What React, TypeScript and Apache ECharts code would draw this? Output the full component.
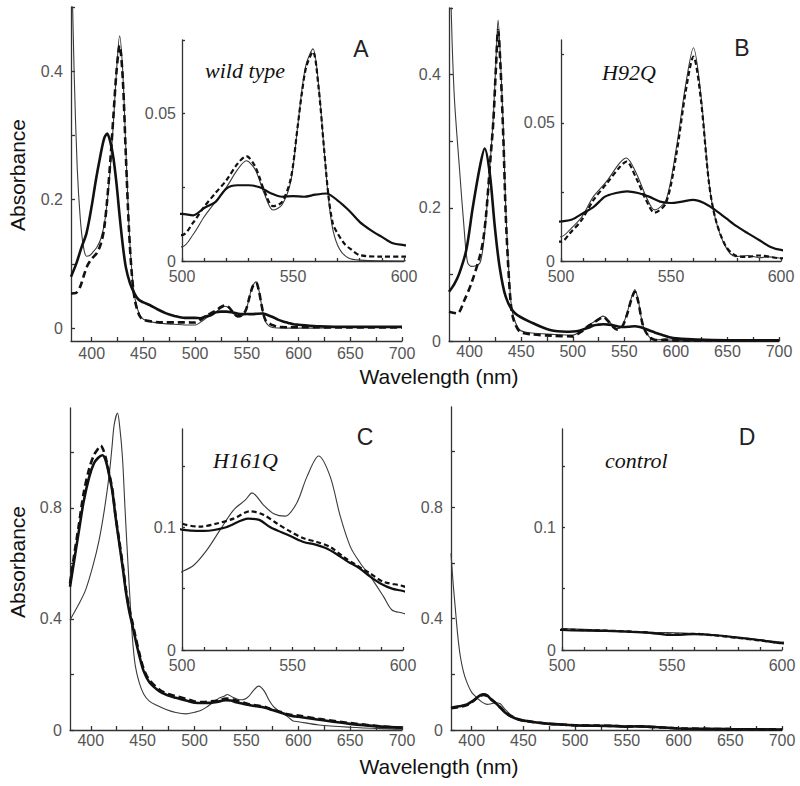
import React, { useEffect, useRef } from "react";
import * as echarts from "echarts";

// ---------- tick / label values ----------
const MAIN_X_TICKS = [400, 425, 450, 475, 500, 525, 550, 575, 600, 625, 650, 675, 700];
const MAIN_X_LABELS = [400, 450, 500, 550, 600, 650, 700];
const INSET_X_TICKS = [500, 510, 520, 530, 540, 550, 560, 570, 580, 590, 600];
const INSET_X_LABELS = [500, 550, 600];
const AB_Y_TICKS = [0, 0.1, 0.2, 0.3, 0.4, 0.5];
const AB_Y_LABELS = [0, 0.2, 0.4];
const CD_Y_TICKS = [0, 0.2, 0.4, 0.6, 0.8, 1.0];
const CD_Y_LABELS = [0, 0.4, 0.8];
const AB_INSET_Y_TICKS = [0, 0.025, 0.05, 0.075];
const AB_INSET_Y_LABELS = [0, 0.05];
const CD_INSET_Y_TICKS = [0, 0.05, 0.1, 0.15];
const CD_INSET_Y_LABELS = [0, 0.1];

const PANEL_LETTERS = ["A", "B", "C", "D"];
const PANEL_NAMES = ["wild type", "H92Q", "H161Q", "control"];

// ---------- Panel A (wild type) ----------
const A_THIN: [number, number][] = [
  [380, 0.62], [383, 0.4], [386, 0.25], [389, 0.17], [392, 0.127], [395, 0.112], [398, 0.113],
  [401, 0.118], [405, 0.126], [409, 0.14], [413, 0.17], [417, 0.23], [421, 0.32], [424, 0.4],
  [427, 0.455], [430, 0.4], [433, 0.28], [436, 0.16], [439, 0.085], [442, 0.045], [446, 0.022],
  [450, 0.014], [460, 0.009], [470, 0.007], [480, 0.006], [490, 0.005], [500, 0.0048],
  [505, 0.009], [510, 0.015], [515, 0.02], [520, 0.025], [525, 0.031], [529, 0.034], [533, 0.031],
  [537, 0.023], [541, 0.0173], [545, 0.019], [549, 0.027], [552, 0.045], [554, 0.058], [556, 0.067],
  [559, 0.072], [561.5, 0.06], [564, 0.038], [566, 0.021], [568, 0.0105], [571, 0.004], [575, 0.001],
  [580, 0.0003], [600, 0.0], [650, 0.001], [700, 0.001],
];
const A_DASHED: [number, number][] = [
  [380, 0.054], [385, 0.055], [389, 0.065], [392, 0.08], [396, 0.098], [400, 0.108], [405, 0.117],
  [409, 0.132], [412, 0.155], [415, 0.2], [418, 0.26], [421, 0.33], [424, 0.4], [427, 0.44],
  [430, 0.39], [433, 0.27], [436, 0.155], [439, 0.08], [442, 0.042], [446, 0.02], [450, 0.013],
  [460, 0.01], [470, 0.009], [480, 0.009], [490, 0.009], [500, 0.0088], [505, 0.013], [510, 0.0184],
  [515, 0.023], [520, 0.0274], [525, 0.033], [529, 0.0356], [533, 0.032], [537, 0.024], [541, 0.0186],
  [545, 0.02], [549, 0.028], [552, 0.045], [554, 0.057], [556, 0.066], [559, 0.071], [561.5, 0.059],
  [564, 0.038], [566, 0.022], [568, 0.0125], [570, 0.0095], [573, 0.006], [576, 0.004], [580, 0.002],
  [590, 0.0015], [600, 0.0015], [650, 0.001], [700, 0.001],
];
const A_THICK: [number, number][] = [
  [380, 0.08], [385, 0.1], [390, 0.125], [395, 0.148], [400, 0.19], [404, 0.23], [408, 0.265],
  [412, 0.295], [415, 0.303], [418, 0.29], [421, 0.265], [424, 0.225], [427, 0.175], [430, 0.13],
  [433, 0.095], [437, 0.07], [441, 0.055], [445, 0.045], [450, 0.04], [456, 0.036], [464, 0.029],
  [472, 0.023], [480, 0.019], [490, 0.016], [500, 0.016], [505, 0.0155], [510, 0.018], [515, 0.02],
  [520, 0.0246], [525, 0.0257], [530, 0.0257], [535, 0.025], [540, 0.023], [545, 0.0218], [550, 0.022],
  [555, 0.0218], [560, 0.0225], [565, 0.0229], [570, 0.0206], [575, 0.0173], [580, 0.0133],
  [585, 0.0105], [590, 0.0082], [595, 0.006], [600, 0.0054], [620, 0.003], [650, 0.002], [700, 0.002],
];

// ---------- Panel B (H92Q) ----------
const B_THIN: [number, number][] = [
  [380, 0.62], [383, 0.45], [385.4, 0.36], [390, 0.262], [395, 0.162], [398, 0.118], [402, 0.112],
  [406, 0.113], [410, 0.117], [413, 0.14], [416, 0.187], [420, 0.27], [423, 0.337], [425.5, 0.42],
  [427.6, 0.482], [430, 0.42], [432.8, 0.312], [435, 0.2], [437.7, 0.112], [440, 0.06], [442.6, 0.036],
  [448.7, 0.0165], [460, 0.012], [480, 0.01], [500, 0.0088], [504, 0.0113], [509.5, 0.016],
  [514.7, 0.0233], [520.7, 0.0288], [526.7, 0.0355], [529.7, 0.0373], [534.2, 0.0318], [538.7, 0.0233],
  [542.5, 0.0185], [547.7, 0.022], [552.3, 0.0403], [556.8, 0.0645], [560.2, 0.0772], [563.5, 0.0609],
  [567.3, 0.0282], [570.3, 0.0149], [574.8, 0.0052], [579.3, 0.0016], [585, 0.002], [590, 0.0012],
  [595, 0.0015], [600, 0.001], [650, 0.001], [700, 0.001],
];
const B_DASHED: [number, number][] = [
  [380, 0.044], [388, 0.0415], [395, 0.0616], [401.7, 0.0866], [409.8, 0.1266], [413, 0.15],
  [416, 0.19], [420, 0.27], [423, 0.33], [425.5, 0.41], [427.6, 0.467], [430, 0.41], [432.8, 0.3],
  [435, 0.19], [437.7, 0.105], [440, 0.055], [442.6, 0.032], [448.7, 0.014], [460, 0.01], [480, 0.008],
  [500, 0.007], [504, 0.01], [509.5, 0.015], [514.7, 0.022], [520.7, 0.028], [526.7, 0.034],
  [529.7, 0.036], [534.2, 0.03], [538.7, 0.022], [542.5, 0.0175], [547.7, 0.021], [552.3, 0.038],
  [556.8, 0.062], [560.2, 0.074], [563.5, 0.059], [567.3, 0.028], [570.3, 0.015], [574.8, 0.0055],
  [579.3, 0.002], [585, 0.0015], [590, 0.002], [600, 0.001], [700, 0.001],
];
const B_THICK: [number, number][] = [
  [380, 0.074], [385, 0.085], [390, 0.1016], [396.8, 0.137], [403, 0.2], [410, 0.262], [414.6, 0.289],
  [419.5, 0.252], [424.4, 0.172], [429, 0.112], [435, 0.0665], [444, 0.0416], [461.6, 0.0266],
  [478, 0.0165], [494, 0.014], [500, 0.0143], [505, 0.015], [510, 0.0173], [515, 0.0197], [520, 0.0233],
  [525, 0.0246], [530, 0.0252], [535, 0.0246], [540, 0.0233], [545, 0.0215], [550, 0.021], [555, 0.0215],
  [560, 0.0221], [565, 0.021], [570, 0.0185], [575, 0.0155], [580, 0.0125], [585, 0.01], [590, 0.0076],
  [595, 0.0052], [600, 0.004], [620, 0.002], [650, 0.001], [700, 0.001],
];

// ---------- Panel C (H161Q) ----------
const C_THIN: [number, number][] = [
  [380, 0.396], [388, 0.45], [395, 0.504], [402, 0.59], [408, 0.683], [413, 0.79], [417.8, 0.92],
  [420.5, 1.02], [422.6, 1.1], [425.8, 1.142], [428, 1.09], [430.6, 0.98], [433, 0.8], [435.5, 0.623],
  [438, 0.46], [440.3, 0.325], [443, 0.23], [446.8, 0.17], [451, 0.13], [456.5, 0.104], [464, 0.088],
  [472.6, 0.074], [482, 0.063], [491.9, 0.058], [500, 0.0638], [505.3, 0.069], [511.3, 0.0815],
  [517.3, 0.098], [523.3, 0.114], [528.6, 0.122], [531.7, 0.128], [536.9, 0.118], [541.5, 0.111],
  [546.7, 0.109], [552, 0.12], [556.5, 0.141], [561.8, 0.158], [567.1, 0.141], [571.6, 0.109],
  [576.2, 0.084], [580.7, 0.0707], [585.2, 0.06], [591.2, 0.0435], [595, 0.0326], [600, 0.03],
  [620, 0.018], [650, 0.01], [680, 0.005], [700, 0.003],
];
const C_DASHED: [number, number][] = [
  [380, 0.528], [384, 0.63], [388.7, 0.743], [393, 0.85], [398.4, 0.94], [403, 0.99], [406.4, 1.01],
  [409.7, 1.025], [412, 1.01], [414.5, 0.98], [418, 0.92], [421, 0.862], [424, 0.77], [427.4, 0.683],
  [431, 0.59], [434, 0.504], [437, 0.44], [440.3, 0.385], [443.5, 0.33], [446.8, 0.277], [451, 0.22],
  [456.5, 0.18], [466, 0.146], [474, 0.13], [482.3, 0.122], [492, 0.112], [500, 0.103], [508.3, 0.1005],
  [515.8, 0.103], [523.3, 0.107], [530.9, 0.113], [537, 0.11], [543, 0.103], [549, 0.0965], [555, 0.091],
  [561, 0.088], [567, 0.084], [573, 0.076], [579, 0.069], [585, 0.0625], [591, 0.0557], [600, 0.052],
  [620, 0.04], [650, 0.025], [680, 0.013], [700, 0.009],
];
const C_THICK: [number, number][] = [
  [380, 0.516], [384, 0.61], [388.7, 0.72], [393, 0.82], [398.4, 0.91], [403, 0.96], [407, 0.98],
  [411.3, 0.99], [414.5, 0.97], [418, 0.915], [421, 0.855], [424, 0.765], [427.4, 0.675], [431, 0.58],
  [434, 0.495], [437, 0.43], [440.3, 0.375], [443.5, 0.32], [446.8, 0.268], [451, 0.212], [456.5, 0.172],
  [466, 0.14], [474, 0.125], [482.3, 0.116], [492, 0.106], [500, 0.098], [510, 0.097], [520, 0.1],
  [530, 0.107], [535, 0.106], [540, 0.1], [545, 0.096], [550, 0.092], [555, 0.088], [560, 0.086],
  [565, 0.083], [570, 0.078], [575, 0.072], [580, 0.067], [585, 0.06], [590, 0.054], [595, 0.05],
  [600, 0.048], [620, 0.037], [650, 0.022], [680, 0.012], [700, 0.008],
];

// ---------- Panel D (control) ----------
const D_THIN: [number, number][] = [
  [380, 0.635], [382, 0.53], [384, 0.444], [386.5, 0.34], [389, 0.265], [392, 0.21], [395.5, 0.17],
  [400, 0.135], [405, 0.116], [410, 0.1], [414.8, 0.092], [419, 0.094], [423, 0.098], [427.7, 0.094],
  [432, 0.075], [437.4, 0.056], [445, 0.04], [453.5, 0.032], [465, 0.025], [476, 0.021], [490, 0.018],
  [500, 0.0175], [520, 0.016], [540, 0.0145], [560, 0.0135], [580, 0.0105], [600, 0.0065],
  [650, 0.004], [700, 0.002],
];
const D_DASHED: [number, number][] = [
  [380, 0.078], [388, 0.083], [395.5, 0.09], [400, 0.1], [405, 0.114], [408, 0.122], [411.5, 0.126],
  [415, 0.122], [418, 0.112], [421, 0.103], [424.5, 0.092], [427.7, 0.082], [432, 0.066], [437.4, 0.051],
  [445, 0.039], [453.5, 0.032], [465, 0.026], [476, 0.022], [490, 0.019], [500, 0.0168], [520, 0.0158],
  [540, 0.0142], [550, 0.0125], [560, 0.0132], [570, 0.0118], [580, 0.0098], [590, 0.0078],
  [600, 0.0057], [650, 0.003], [700, 0.002],
];
const D_THICK: [number, number][] = [
  [380, 0.08], [388, 0.085], [395.5, 0.092], [400, 0.102], [405, 0.116], [408, 0.124], [411.5, 0.128],
  [415, 0.124], [418, 0.113], [421, 0.104], [424.5, 0.092], [427.7, 0.08], [432, 0.064], [437.4, 0.05],
  [445, 0.038], [453.5, 0.032], [465, 0.026], [476, 0.022], [490, 0.019], [500, 0.0163], [520, 0.0155],
  [540, 0.014], [550, 0.0122], [560, 0.013], [570, 0.012], [580, 0.01], [590, 0.008], [600, 0.0055],
  [650, 0.003], [700, 0.002],
];

const PANEL_SERIES = [
  { thin: A_THIN, dashed: A_DASHED, thick: A_THICK },
  { thin: B_THIN, dashed: B_DASHED, thick: B_THICK },
  { thin: C_THIN, dashed: C_DASHED, thick: C_THICK },
  { thin: D_THIN, dashed: D_DASHED, thick: D_THICK },
];

const SANS = "'Liberation Sans', Arial, sans-serif";
const SERIF = "'Liberation Serif', 'Times New Roman', serif";
const AXIS_COLOR = "#333";
const LABEL_COLOR = "#555";

function buildOption() {
  // grids: main A, inset A, main B, inset B, main C, inset C, main D, inset D
  const grids = [
    { left: 71, top: 7, width: 331, height: 334 },
    { left: 182, top: 40, width: 222, height: 221 },
    { left: 449, top: 8, width: 330, height: 333 },
    { left: 561, top: 40, width: 220, height: 221 },
    { left: 70, top: 408, width: 332, height: 322 },
    { left: 182, top: 429, width: 221, height: 221 },
    { left: 451, top: 407, width: 331, height: 323 },
    { left: 562, top: 429, width: 220, height: 221 },
  ];
  const yRanges = [
    { min: -0.02, max: 0.5, ticks: AB_Y_TICKS, labels: AB_Y_LABELS },
    { min: 0, max: 0.075, ticks: AB_INSET_Y_TICKS, labels: AB_INSET_Y_LABELS },
    { min: 0, max: 0.5, ticks: AB_Y_TICKS, labels: AB_Y_LABELS },
    { min: 0, max: 0.08, ticks: AB_INSET_Y_TICKS, labels: AB_INSET_Y_LABELS },
    { min: 0, max: 1.16, ticks: CD_Y_TICKS, labels: CD_Y_LABELS },
    { min: 0, max: 0.18, ticks: CD_INSET_Y_TICKS, labels: CD_INSET_Y_LABELS },
    { min: 0, max: 1.16, ticks: CD_Y_TICKS, labels: CD_Y_LABELS },
    { min: 0, max: 0.18, ticks: CD_INSET_Y_TICKS, labels: CD_INSET_Y_LABELS },
  ];
  const mainXMargins = [6, 0, 4, 0, 4, 0, 4, 0];
  const lineStyle = { color: AXIS_COLOR, width: 1.3 };
  const xAxis = grids.map((_, i) => {
    const inset = i % 2 === 1;
    return {
      type: "value",
      gridIndex: i,
      min: inset ? 500 : 380,
      max: inset ? 600 : 700,
      axisLine: { show: true, onZero: false, lineStyle },
      axisTick: {
        show: true,
        inside: true,
        length: inset ? 3 : 4,
        lineStyle,
        customValues: inset ? INSET_X_TICKS : MAIN_X_TICKS,
      },
      axisLabel: {
        customValues: inset ? INSET_X_LABELS : MAIN_X_LABELS,
        color: LABEL_COLOR,
        fontFamily: SANS,
        fontSize: 16,
        lineHeight: 13,
        margin: inset ? 9 : mainXMargins[i],
      },
      splitLine: { show: false },
    };
  });
  const yAxis = grids.map((_, i) => {
    const inset = i % 2 === 1;
    const r = yRanges[i];
    return {
      type: "value",
      gridIndex: i,
      min: r.min,
      max: r.max,
      axisLine: { show: true, onZero: false, lineStyle },
      axisTick: { show: true, inside: true, length: inset ? 3 : 4, lineStyle, customValues: r.ticks },
      axisLabel: {
        customValues: r.labels,
        color: LABEL_COLOR,
        fontFamily: SANS,
        fontSize: 16,
        lineHeight: 13,
        margin: inset ? 6 : 8,
      },
      splitLine: { show: false },
    };
  });

  const series: any[] = [];
  PANEL_SERIES.forEach((p, k) => {
    [0, 1].forEach((sub) => {
      const idx = k * 2 + sub;
      const inset = sub === 1;
      const common = {
        type: "line",
        xAxisIndex: idx,
        yAxisIndex: idx,
        showSymbol: false,
        symbol: "none",
        smooth: 0.3,
        clip: true,
        silent: true,
      };
      series.push({
        ...common,
        name: "thin",
        data: p.thin,
        lineStyle: { color: "#3a3a3a", width: 1.1 },
      });
      series.push({
        ...common,
        name: "dashed",
        data: p.dashed,
        lineStyle: { color: "#111", width: inset ? 2.2 : 2.6, type: inset ? [5, 3] : [7, 4] },
      });
      series.push({
        ...common,
        name: "thick",
        data: p.thick,
        lineStyle: { color: "#111", width: inset ? 2.2 : 2.6 },
      });
    });
  });

  const letterPos = [
    [361, 49],
    [742, 48],
    [365, 437],
    [747, 437],
  ];
  const namePos = [
    [205, 70],
    [602, 72],
    [213, 460],
    [605, 460],
  ];
  const graphic: any[] = [];
  PANEL_LETTERS.forEach((t, i) => {
    graphic.push({
      type: "text",
      x: letterPos[i][0],
      y: letterPos[i][1],
      style: {
        text: t,
        fontFamily: SANS,
        fontSize: 23,
        fill: "#222",
        textAlign: "center",
        textVerticalAlign: "middle",
      },
    });
    graphic.push({
      type: "text",
      x: namePos[i][0],
      y: namePos[i][1],
      style: {
        text: PANEL_NAMES[i],
        fontFamily: SERIF,
        fontStyle: "italic",
        fontSize: 22,
        fill: "#111",
        textAlign: "left",
        textVerticalAlign: "middle",
      },
    });
  });
  [175, 562].forEach((cy) => {
    graphic.push({
      type: "text",
      x: 17,
      y: cy,
      rotation: Math.PI / 2,
      style: {
        text: "Absorbance",
        fontFamily: SANS,
        fontSize: 21,
        fill: "#111",
        textAlign: "center",
        textVerticalAlign: "middle",
      },
    });
  });
  [376, 766].forEach((cy) => {
    graphic.push({
      type: "text",
      x: 439,
      y: cy,
      style: {
        text: "Wavelength (nm)",
        fontFamily: SANS,
        fontSize: 21,
        fill: "#111",
        textAlign: "center",
        textVerticalAlign: "middle",
      },
    });
  });

  return {
    animation: false,
    backgroundColor: "#fff",
    grid: grids.map((g) => ({ ...g, containLabel: false })),
    xAxis,
    yAxis,
    series,
    graphic,
  };
}

export default function App() {
  const ref = useRef<HTMLDivElement>(null);
  useEffect(() => {
    if (!ref.current) return;
    const chart = echarts.init(ref.current, null, { renderer: "svg" });
    chart.setOption(buildOption() as any);
    return () => chart.dispose();
  }, []);
  return (
    <div
      ref={ref}
      style={{ position: "absolute", left: 0, top: 0, width: 800, height: 786 }}
    />
  );
}
